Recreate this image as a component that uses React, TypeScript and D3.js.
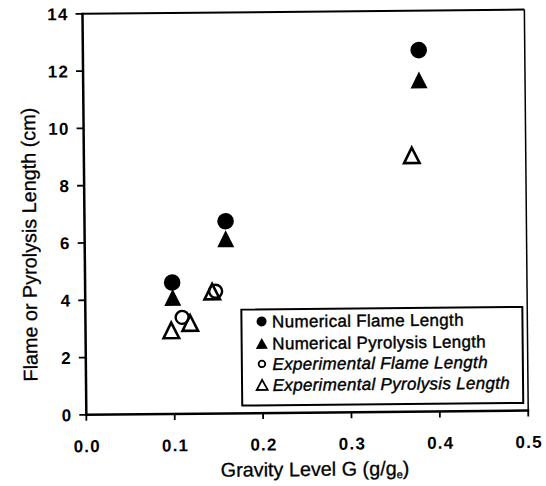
import React from "react";
import * as d3 from "d3";

const numFlameG = [0.0985, 0.1596, 0.38];
const numFlameL = [4.59, 6.71, 12.62];
const numPyroG = [0.099, 0.1596, 0.38];
const numPyroL = [4.07, 6.1, 11.58];
const expFlameG = [0.1095, 0.1476];
const expFlameL = [3.37, 4.27];
const expPyroG = [0.097, 0.1185, 0.1437, 0.371];
const expPyroL = [2.92, 3.17, 4.26, 8.95];
const xTicks = [0, 0.1, 0.2, 0.3, 0.4, 0.5];
const yTicks = [0, 2, 4, 6, 8, 10, 12, 14];
const legendLabels = [
  "Numerical Flame Length",
  "Numerical Pyrolysis Length",
  "Experimental Flame Length",
  "Experimental Pyrolysis Length",
];

const W = 546, H = 486;
const left = 84.4, right = 526.3, top = 11.7, bottom = 412.7;

export default function App() {
  const x = d3.scaleLinear().domain([0, 0.5]).range([left, right]);
  const y = d3.scaleLinear().domain([0, 14]).range([bottom, top]);
  const font = "'Liberation Sans', Arial, sans-serif";

  const tri = (cx: number, cy: number, w: number, h: number) =>
    `M${cx},${cy - h / 2}L${cx + w / 2},${cy + h / 2}L${cx - w / 2},${cy + h / 2}Z`;

  const rows = [321, 343, 363.5, 384.5];

  return (
    <svg width={W} height={H} style={{ position: "absolute", left: 0, top: 0, background: "#fff" }}>
      <rect x={0} y={0} width={W} height={H} fill="#fff" />
      <g transform="rotate(-0.55 305 212)">
        {/* frame */}
        <line x1={left} x2={right} y1={top} y2={top} stroke="#000" strokeWidth={2} />
        <line x1={right} x2={right} y1={top} y2={bottom} stroke="#000" strokeWidth={1.5} />
        <line x1={left} x2={left} y1={top - 1} y2={bottom + 1} stroke="#000" strokeWidth={2.5} />
        <line x1={left - 1} x2={right + 1} y1={bottom} y2={bottom} stroke="#000" strokeWidth={2.5} />
        {/* y ticks */}
        {yTicks.map((t) => (
          <g key={"y" + t}>
            <line x1={left - 7} x2={left} y1={y(t)} y2={y(t)} stroke="#000" strokeWidth={1.8} />
            <text x={left - 14} y={y(t)} dy="0.36em" textAnchor="end" fontFamily={font} fontSize={17} fontWeight="bold" letterSpacing={1.2}>
              {t}
            </text>
          </g>
        ))}
        {/* x ticks */}
        {xTicks.map((t) => (
          <g key={"x" + t}>
            <line x1={x(t)} x2={x(t)} y1={bottom} y2={bottom + 6} stroke="#000" strokeWidth={1.8} />
            <text x={x(t) + 0.6} y={450} textAnchor="middle" fontFamily={font} fontSize={17} fontWeight="bold" letterSpacing={1.2}>
              {t.toFixed(1)}
            </text>
          </g>
        ))}
        <text x={312.6} y={476} textAnchor="middle" fontFamily={font} fontSize={19.8} stroke="#000" strokeWidth={0.3}>
          Gravity Level G (g/g<tspan fontSize={11} dy={3}>e</tspan><tspan dy={-3}>)</tspan>
        </text>
        <text
          transform={`translate(36,242) rotate(-90)`}
          textAnchor="middle"
          fontFamily={font}
          fontSize={19.8}
          stroke="#000"
          strokeWidth={0.3}
        >
          Flame or Pyrolysis Length (cm)
        </text>
        {/* data */}
        {expFlameG.map((g, i) => (
          <circle key={"ef" + i} cx={x(g)} cy={y(expFlameL[i])} r={6.5} fill="none" stroke="#000" strokeWidth={2.4} />
        ))}
        {expPyroG.map((g, i) => (
          <path key={"ep" + i} d={tri(x(g), y(expPyroL[i]), 15.5, 15.5)} fill="none" stroke="#000" strokeWidth={2.6} strokeLinejoin="miter" />
        ))}
        {numPyroG.map((g, i) => (
          <path key={"np" + i} d={tri(x(g), y(numPyroL[i]), 17, 17)} fill="#000" />
        ))}
        {numFlameG.map((g, i) => (
          <circle key={"nf" + i} cx={x(g)} cy={y(numFlameL[i])} r={8.3} fill="#000" />
        ))}
        {/* legend */}
        <rect x={240.4} y={309} width={281} height={96} fill="#fff" stroke="#000" strokeWidth={2} />
        {legendLabels.map((lab, i) => {
          const ly = rows[i];
          const mx = 260.5;
          let marker;
          if (i === 0) marker = <circle cx={mx} cy={ly} r={5} fill="#000" />;
          else if (i === 1) marker = <path d={tri(mx, ly, 12, 11)} fill="#000" />;
          else if (i === 2) marker = <circle cx={mx} cy={ly} r={3.3} fill="none" stroke="#000" strokeWidth={1.8} />;
          else marker = <path d={tri(mx, ly, 11, 10)} fill="none" stroke="#000" strokeWidth={1.8} />;
          return (
            <g key={"lg" + i}>
              {marker}
              <text x={271} y={ly} dy="0.36em" fontFamily={font} fontSize={17} fontStyle={i >= 2 ? "italic" : "normal"} stroke="#000" strokeWidth={0.4} letterSpacing={0.3}>
                {lab}
              </text>
            </g>
          );
        })}
      </g>
    </svg>
  );
}
